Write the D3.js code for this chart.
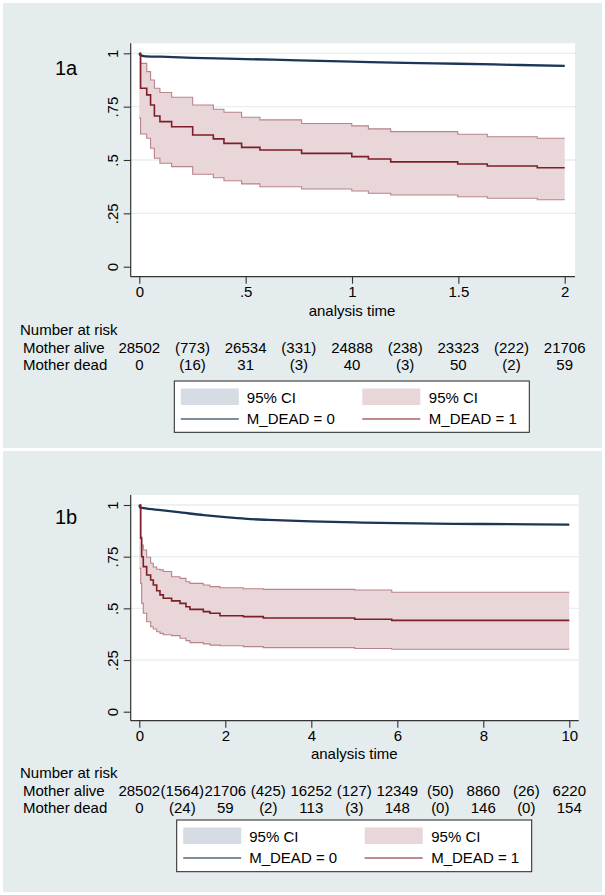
<!DOCTYPE html>
<html>
<head>
<meta charset="utf-8">
<script src="https://cdn.jsdelivr.net/npm/d3@7"></script>
<style>
  html, body { margin: 0; padding: 0; background: #ffffff; }
  svg { display: block; }
  text { font-family: "Liberation Sans", Arial, Helvetica, sans-serif; fill: #000; }
</style>
</head>
<body>
<svg id="chart" width="605" height="895"></svg>
<script>
// ---------------- DATA ----------------
// Panel 1a (analysis time 0-2)
const timeA   = [0, 0.006, 0.035, 0.053, 0.071, 0.097, 0.152, 0.251, 0.348, 0.398, 0.481, 0.567, 0.763, 0.999, 1.077, 1.182, 1.497, 1.636, 1.871, 2];
const survA   = [1, 0.836, 0.805, 0.758, 0.706, 0.680, 0.656, 0.617, 0.599, 0.578, 0.559, 0.547, 0.531, 0.516, 0.505, 0.491, 0.481, 0.472, 0.464, 0.464];
const upperA  = [1, 0.953, 0.914, 0.875, 0.836, 0.816, 0.794, 0.758, 0.738, 0.724, 0.700, 0.688, 0.671, 0.660, 0.646, 0.633, 0.621, 0.609, 0.602, 0.602];
const lowerA  = [0.696, 0.622, 0.602, 0.555, 0.508, 0.485, 0.469, 0.433, 0.417, 0.403, 0.388, 0.375, 0.364, 0.355, 0.344, 0.336, 0.328, 0.321, 0.314, 0.314];
const aliveTimeA = [0, 0.005, 0.02, 0.1, 0.25, 0.5, 0.75, 1, 1.25, 1.5, 1.75, 2];
const aliveSurvA = [1, 0.992, 0.987, 0.984, 0.979, 0.973, 0.967, 0.961, 0.955, 0.951, 0.946, 0.941];
const xTicksA = [0, 0.5, 1, 1.5, 2];
const xTickLabelsA = ["0", ".5", "1", "1.5", "2"];
const riskTimesA = [0, 0.25, 0.5, 0.75, 1, 1.25, 1.5, 1.75, 2];
const riskAliveA = ["28502", "(773)", "26534", "(331)", "24888", "(238)", "23323", "(222)", "21706"];
const riskDeadA  = ["0", "(16)", "31", "(3)", "40", "(3)", "50", "(2)", "59"];

// Panel 1b (analysis time 0-10)
const timeB   = [0, 0.032, 0.055, 0.093, 0.171, 0.264, 0.326, 0.404, 0.481, 0.558, 0.752, 0.946, 1.085, 1.178, 1.488, 1.643, 1.876, 2.419, 2.884, 5.01, 5.87, 10];
const survB   = [1, 0.839, 0.750, 0.702, 0.661, 0.637, 0.613, 0.585, 0.565, 0.549, 0.536, 0.524, 0.508, 0.495, 0.484, 0.476, 0.464, 0.460, 0.453, 0.447, 0.442, 0.442];
const upperB  = [1, 0.847, 0.806, 0.782, 0.747, 0.718, 0.700, 0.689, 0.686, 0.678, 0.653, 0.645, 0.629, 0.621, 0.613, 0.605, 0.600, 0.595, 0.592, 0.589, 0.578, 0.578];
const lowerB  = [0.694, 0.621, 0.524, 0.476, 0.435, 0.411, 0.400, 0.387, 0.379, 0.372, 0.368, 0.355, 0.344, 0.334, 0.328, 0.322, 0.319, 0.315, 0.310, 0.306, 0.302, 0.302];
const aliveTimeB = [0, 0.02, 0.1, 0.5, 1, 1.5, 2, 2.5, 3, 3.5, 4, 5, 6, 8, 10];
const aliveSurvB = [1, 0.988, 0.985, 0.975, 0.963, 0.951, 0.941, 0.933, 0.928, 0.924, 0.921, 0.916, 0.912, 0.908, 0.905];
const xTicksB = [0, 2, 4, 6, 8, 10];
const xTickLabelsB = ["0", "2", "4", "6", "8", "10"];
const riskTimesB = [0, 1, 2, 3, 4, 5, 6, 7, 8, 9, 10];
const riskAliveB = ["28502", "(1564)", "21706", "(425)", "16252", "(127)", "12349", "(50)", "8860", "(26)", "6220"];
const riskDeadB  = ["0", "(24)", "59", "(2)", "113", "(3)", "148", "(0)", "146", "(0)", "154"];

// Shared
const yTicks = [0, 0.25, 0.5, 0.75, 1];
const yTickLabels = ["0", ".25", ".5", ".75", "1"];
const gridTicks = [0.25, 0.5, 0.75, 1];
const rowLabels = ["Mother alive", "Mother dead"];
const legendLabels = ["95% CI", "95% CI", "M_DEAD = 0", "M_DEAD = 1"];
const blueCIHalfWidth = 0.003;

// ---------------- STYLE ----------------
const BG = "#e4ecee";
const NAVY = "#1b3656";
const MAROON = "#7c1f29";
const CI_FILL = "#e8d6d9";
const CI_LINE = "#b8838a";
const BLUE_CI = "#d5dce4";
const LEG_NAVY = "#56677d";
const LEG_MAROON = "#a7636b";
const FS = 15;

const svg = d3.select("#chart");
svg.append("rect").attr("width", 605).attr("height", 895).attr("fill", "#fff");

function drawPanel(cfg) {
  const g = svg.append("g");
  g.append("rect").attr("x", 3).attr("y", cfg.bgTop).attr("width", 599).attr("height", cfg.bgBottom - cfg.bgTop).attr("fill", BG);
  g.append("rect").attr("x", cfg.plotLeft).attr("y", cfg.plotTop)
    .attr("width", cfg.plotRight - cfg.plotLeft).attr("height", cfg.axisY - cfg.plotTop).attr("fill", "#fff");

  const x = d3.scaleLinear().domain([0, cfg.xMax]).range([cfg.x0, cfg.x1]);
  const y = d3.scaleLinear().domain([0, 1]).range([cfg.y0, cfg.y1]);

  g.selectAll(".grid").data(gridTicks).enter().append("line")
    .attr("x1", cfg.plotLeft).attr("x2", cfg.plotRight)
    .attr("y1", d => y(d)).attr("y2", d => y(d))
    .attr("stroke", "#e6eef0").attr("stroke-width", 1.3);

  const idx = d3.range(cfg.time.length);
  const area = d3.area().curve(d3.curveStepAfter)
    .x(i => x(cfg.time[i])).y0(i => y(cfg.lower[i])).y1(i => y(cfg.upper[i]));
  g.append("path").datum(idx).attr("d", area).attr("fill", CI_FILL);
  const stepLine = arr => d3.line().curve(d3.curveStepAfter).x(i => x(cfg.time[i])).y(i => y(arr[i]));
  g.append("path").datum(idx).attr("d", stepLine(cfg.upper)).attr("fill", "none").attr("stroke", CI_LINE).attr("stroke-width", 1.1);
  g.append("path").datum(idx).attr("d", stepLine(cfg.lower)).attr("fill", "none").attr("stroke", CI_LINE).attr("stroke-width", 1.1);

  const bIdx = d3.range(cfg.aliveTime.length);
  const bArea = d3.area().curve(d3.curveMonotoneX).x(i => x(cfg.aliveTime[i]))
    .y0(i => y(Math.max(0, cfg.aliveSurv[i] - (i === 0 ? 0 : blueCIHalfWidth))))
    .y1(i => y(Math.min(1, cfg.aliveSurv[i] + (i === 0 ? 0 : blueCIHalfWidth))));
  g.append("path").datum(bIdx).attr("d", bArea).attr("fill", BLUE_CI);
  const bLine = d3.line().curve(d3.curveMonotoneX).x(i => x(cfg.aliveTime[i])).y(i => y(cfg.aliveSurv[i]));
  g.append("path").datum(bIdx).attr("d", bLine).attr("fill", "none").attr("stroke", NAVY).attr("stroke-width", 2.3);

  g.append("path").datum(idx).attr("d", stepLine(cfg.surv)).attr("fill", "none").attr("stroke", MAROON).attr("stroke-width", 1.6);

  g.append("line").attr("x1", cfg.plotLeft).attr("x2", cfg.plotLeft).attr("y1", cfg.plotTop).attr("y2", cfg.axisY)
    .attr("stroke", "#333").attr("stroke-width", 1.2);
  g.append("line").attr("x1", cfg.plotLeft).attr("x2", cfg.plotRight).attr("y1", cfg.axisY).attr("y2", cfg.axisY)
    .attr("stroke", "#333").attr("stroke-width", 1.2);

  const yAx = g.append("g").attr("transform", `translate(${cfg.plotLeft},0)`)
    .call(d3.axisLeft(y).tickValues(yTicks).tickSize(7).tickFormat((d, i) => yTickLabels[i]));
  yAx.select(".domain").remove();
  yAx.selectAll("line").attr("stroke", "#333").attr("stroke-width", 1.1);
  yAx.selectAll("text").attr("transform", "rotate(-90)").attr("x", 0).attr("y", -13).attr("dy", null)
    .attr("text-anchor", "middle").style("font-size", FS + "px").style("font-family", "Liberation Sans, Arial, sans-serif").attr("fill", "#000");

  const xAx = g.append("g").attr("transform", `translate(0,${cfg.axisY})`)
    .call(d3.axisBottom(x).tickValues(cfg.xTicks).tickSize(7).tickFormat((d, i) => cfg.xTickLabels[i]));
  xAx.select(".domain").remove();
  xAx.selectAll("line").attr("stroke", "#333").attr("stroke-width", 1.1);
  xAx.selectAll("text").attr("y", cfg.xLabelBase - cfg.axisY).attr("dy", null)
    .style("font-size", FS + "px").style("font-family", "Liberation Sans, Arial, sans-serif").attr("fill", "#000");

  g.append("text").attr("x", (cfg.x0 + cfg.x1) / 2).attr("y", cfg.titleBase).attr("text-anchor", "middle")
    .style("font-size", FS + "px").text("analysis time");

  g.append("text").attr("x", 55).attr("y", cfg.labelBase).style("font-size", "20px").text(cfg.label);

  g.append("text").attr("x", 20).attr("y", cfg.riskTitleBase).style("font-size", FS + "px").text("Number at risk");
  const rows = [cfg.riskAlive, cfg.riskDead];
  rows.forEach((row, r) => {
    const base = cfg.riskRowBase[r];
    g.append("text").attr("x", 23).attr("y", base).style("font-size", FS + "px").text(rowLabels[r]);
    g.selectAll(null).data(row).enter().append("text")
      .attr("x", (d, i) => x(cfg.riskTimes[i])).attr("y", base).attr("text-anchor", "middle")
      .style("font-size", FS + "px").text(d => d);
  });

  const L = cfg.legend;
  const lg = g.append("g").attr("transform", `translate(${L.left},${L.top})`);
  lg.append("rect").attr("x", 0).attr("y", 0).attr("width", L.right - L.left).attr("height", L.bottom - L.top)
    .attr("fill", "#fff").attr("stroke", "#222").attr("stroke-width", 1);
  const cols = [6.5, 188];
  const textCols = [72.5, 254.5];
  const swatchFill = [BLUE_CI, CI_FILL];
  const lineCol = [LEG_NAVY, LEG_MAROON];
  cols.forEach((cx, c) => {
    lg.append("rect").attr("x", cx).attr("y", 7.5).attr("width", 58).attr("height", 16.5).attr("fill", swatchFill[c]);
    lg.append("text").attr("x", textCols[c]).attr("y", 22).style("font-size", FS + "px").text(legendLabels[c]);
    lg.append("line").attr("x1", cx).attr("x2", cx + 58).attr("y1", 38).attr("y2", 38)
      .attr("stroke", lineCol[c]).attr("stroke-width", 1.4);
    lg.append("text").attr("x", textCols[c]).attr("y", 43).style("font-size", FS + "px").text(legendLabels[2 + c]);
  });
}

drawPanel({
  bgTop: 3, bgBottom: 448,
  plotLeft: 130.7, plotRight: 575, plotTop: 43.3, axisY: 276.7,
  x0: 139.3, x1: 564.7, xMax: 2, y0: 266.7, y1: 53.3,
  time: timeA, surv: survA, upper: upperA, lower: lowerA,
  aliveTime: aliveTimeA, aliveSurv: aliveSurvA,
  xTicks: xTicksA, xTickLabels: xTickLabelsA,
  xLabelBase: 297.5, titleBase: 316, labelBase: 74.5, label: "1a",
  riskTitleBase: 335, riskRowBase: [353, 370],
  riskTimes: riskTimesA, riskAlive: riskAliveA, riskDead: riskDeadA,
  legend: {left: 174.3, right: 529.3, top: 381, bottom: 432.3}
});

drawPanel({
  bgTop: 451, bgBottom: 892,
  plotLeft: 130.7, plotRight: 578.7, plotTop: 495, axisY: 720.7,
  x0: 139.3, x1: 569.3, xMax: 10, y0: 711.7, y1: 505,
  time: timeB, surv: survB, upper: upperB, lower: lowerB,
  aliveTime: aliveTimeB, aliveSurv: aliveSurvB,
  xTicks: xTicksB, xTickLabels: xTickLabelsB,
  xLabelBase: 741.5, titleBase: 759, labelBase: 524, label: "1b",
  riskTitleBase: 778, riskRowBase: [795.5, 812.5],
  riskTimes: riskTimesB, riskAlive: riskAliveB, riskDead: riskDeadB,
  legend: {left: 176.7, right: 531.7, top: 820, bottom: 871.7}
});
</script>
</body>
</html>
